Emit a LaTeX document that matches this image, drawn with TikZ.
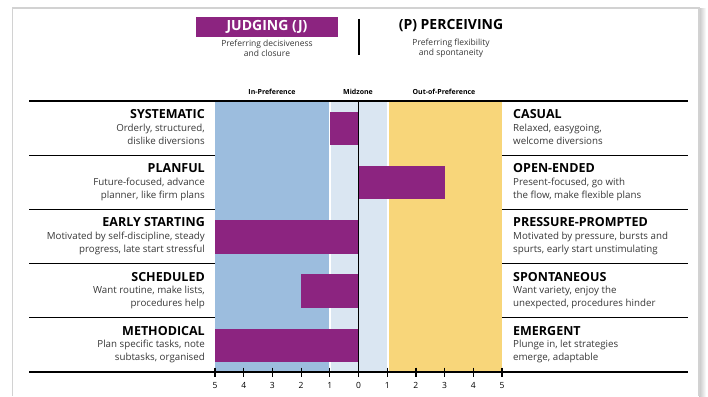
\documentclass[tikz,border=0pt]{standalone}
\usepackage{fontspec}
\setmainfont{Open Sans}
\usetikzlibrary{positioning}

\definecolor{judgepurple}{RGB}{140,36,128}
\definecolor{inblue}{RGB}{156,189,222}
\definecolor{midblue}{RGB}{218,230,242}
\definecolor{outyellow}{RGB}{248,214,122}
\definecolor{framegray}{RGB}{210,210,210}
\definecolor{desctext}{RGB}{55,55,55}

\begin{document}
\begin{tikzpicture}[x=1pt, y=-1pt, inner sep=0pt,
 title node/.style={font=\bfseries\fontsize{12.5}{14}\selectfont},
 head node/.style={font=\bfseries\fontsize{14}{16}\selectfont},
 desc node/.style={font=\fontsize{9.75}{13}\selectfont, text=desctext},
 sub node/.style={font=\fontsize{8.5}{10}\selectfont, text=desctext, align=center},
 zone label/.style={font=\bfseries\fontsize{7}{8}\selectfont},
 tick label/.style={font=\fontsize{8.5}{10}\selectfont},
 bar/.style={fill=judgepurple}]

  \useasboundingbox (0,0) rectangle (708,396);

  % page frame
  \shade[left color=gray!45, right color=white] (699,9) rectangle (706,396);
  \draw[framegray, line width=1.2pt] (12.5,396) -- (12.5,8) -- (699,8) -- (699,396);

  % zones
  \fill[inblue] (215,101) rectangle (329.3,372);
  \fill[midblue] (330.8,101) rectangle (387.2,372);
  \fill[outyellow] (388.8,101) rectangle (502,372);

  % header
  \node[head node, fill=judgepurple, text=white, minimum width=142pt, minimum height=20pt] (judging) at (267,27) {JUDGING (J)};
  \node[sub node, below=2.5pt of judging] (jsub) {Preferring decisiveness\\and closure};
  \node[head node] (perceiving) at (451,26) {(P) PERCEIVING};
  \node[sub node] (psub) at (perceiving|-jsub) {Preferring flexibility\\and spontaneity};
  \draw[line width=2pt] (359,19) -- (359,55);

  \node[zone label] (inpref) at (272,92) {In-Preference};
  \node[zone label] (midzone) at (358,92) {Midzone};
  \node[zone label] (outpref) at (444,92) {Out-of-Preference};

  % rows
  \foreach \i/\lt/\ld/\rt/\rd/\v in {
    0/SYSTEMATIC/{Orderly, structured,\\dislike diversions}/CASUAL/{Relaxed, easygoing,\\welcome diversions}/-1,
    1/PLANFUL/{Future-focused, advance\\planner, like firm plans}/OPEN-ENDED/{Present-focused, go with\\the flow, make flexible plans}/3,
    2/EARLY STARTING/{Motivated by self-discipline, steady\\progress, late start stressful}/PRESSURE-PROMPTED/{Motivated by pressure, bursts and\\spurts, early start unstimulating}/-5,
    3/SCHEDULED/{Want routine, make lists,\\procedures help}/SPONTANEOUS/{Want variety, enjoy the\\unexpected, procedures hinder}/-2,
    4/METHODICAL/{Plan specific tasks, note\\subtasks, organised}/EMERGENT/{Plunge in, let strategies\\emerge, adaptable}/-5} {
    \pgfmathsetmacro{\rowtop}{101+54.2*\i}
    \fill[bar] (358.5,\rowtop+10.8) rectangle ({358.5+28.7*\v},\rowtop+44.2);
    \node[title node, anchor=base east] (lt\i) at (205,\rowtop+17.5) {\lt};
    \node[desc node, anchor=base east, align=right] (ld\i) at (205,\rowtop+43) {\ld};
    \node[title node, anchor=base west] (rt\i) at (513,\rowtop+17.5) {\rt};
    \node[desc node, anchor=base west, align=left] (rd\i) at (513,\rowtop+43) {\rd};
  }
  \foreach \i in {1,...,4} {
    \draw[line width=1.3pt] (29,101+54.2*\i) -- (215,101+54.2*\i);
    \draw[line width=1.3pt] (502,101+54.2*\i) -- (688,101+54.2*\i);
  }

  % axes
  \draw[line width=2pt] (29,101) -- (688,101);
  \draw[line width=2pt] (29,372) -- (688,372);
  \draw[line width=1.5pt] (358.5,101) -- (358.5,372);
  \draw[line width=1.2pt] (358.5,367.5) -- (358.5,377);
  \node[tick label] (t0) at (358.5,385.5) {0};
  \foreach \k in {1,...,5} {
    \draw[line width=1.2pt] ({358.5-28.7*\k},367.5) -- ({358.5-28.7*\k},377);
    \draw[line width=1.2pt] ({358.5+28.7*\k},367.5) -- ({358.5+28.7*\k},377);
    \node[tick label] (tl\k) at ({358.5-28.7*\k},385.5) {\k};
    \node[tick label] (tr\k) at ({358.5+28.7*\k},385.5) {\k};
  }
\end{tikzpicture}
\end{document}
